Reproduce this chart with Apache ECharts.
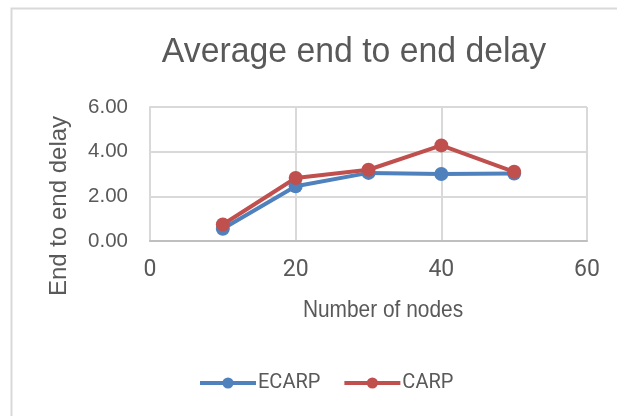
<!DOCTYPE html>
<html>
<head>
<meta charset="utf-8">
<script src="https://cdn.jsdelivr.net/npm/echarts@6/dist/echarts.min.js"></script>
<style>
    html, body { margin: 0; padding: 0; background: #fff; }
    #chart { width: 617px; height: 416px; }
</style>
</head>
<body>
<div id="chart"></div>
<script>
    // values
    var nodes = [10, 20, 30, 40, 50];
    var ecarp = [0.55, 2.45, 3.05, 3.0, 3.02];
    var carp = [0.74, 2.82, 3.19, 4.28, 3.1];

    var sans = '"Liberation Sans", Arial, sans-serif';
    var grey = '#595959';

    function pairs(xs, ys) {
        var out = [];
        for (var i = 0; i < xs.length; i++) {
            out.push([xs[i], ys[i]]);
        }
        return out;
    }

    // the original uses a narrow face, so squeeze the text a bit
    function label(txt, x, y, size, squeeze, rot) {
        return {
            type: 'text',
            x: x, y: y,
            rotation: rot || 0,
            scaleX: squeeze,
            silent: true,
            style: {
                text: txt,
                font: size + 'px ' + sans,
                fill: grey,
                align: 'center',
                verticalAlign: 'middle'
            }
        };
    }

    var myChart = echarts.init(document.getElementById('chart'));
    myChart.setOption({
        animation: false,
        graphic: [
            {
                type: 'rect',
                shape: {x: 11.5, y: 8.5, width: 640, height: 440},
                style: {fill: 'none', stroke: '#d9d9d9', lineWidth: 2},
                silent: true
            },
            label('Average end to end delay', 354, 52, 35, 0.965),
            label('End to end delay', 59, 206, 24, 1.0, Math.PI / 2),
            label('Number of nodes', 383, 310, 24, 0.87)
        ],
        legend: {
            left: 193,
            top: 368,
            itemWidth: 56,
            itemHeight: 14,
            itemGap: 22,
            data: ['ECARP', 'CARP'],
            lineStyle: {width: 4},
            textStyle: {fontFamily: 'Roboto, sans-serif', fontSize: 20, color: grey, padding: [0, 0, 0, -3]}
        },
        grid: {left: 150, right: 30, top: 107, bottom: 175},
        xAxis: {
            type: 'value',
            min: 0, max: 60, interval: 20,
            axisLine: {show: true, lineStyle: {color: '#bfbfbf', width: 2}},
            axisTick: {show: false},
            axisLabel: {margin: 18, fontFamily: 'Roboto, sans-serif', fontSize: 23, color: grey},
            splitLine: {show: true, lineStyle: {color: '#d9d9d9', width: 2}}
        },
        yAxis: {
            type: 'value',
            min: 0, max: 6, interval: 2,
            axisLine: {show: true, lineStyle: {color: '#d9d9d9', width: 2}},
            axisTick: {show: false},
            axisLabel: {
                margin: 22,
                fontFamily: sans, fontSize: 20.5, color: grey,
                formatter: function (v) { return v.toFixed(2); }
            },
            splitLine: {show: true, lineStyle: {color: '#d9d9d9', width: 2}}
        },
        series: [
            {
                name: 'ECARP',
                type: 'line',
                data: pairs(nodes, ecarp),
                symbol: 'circle',
                symbolSize: 14,
                lineStyle: {width: 4, color: '#4f81bd'},
                itemStyle: {color: '#4f81bd'}
            },
            {
                name: 'CARP',
                type: 'line',
                data: pairs(nodes, carp),
                symbol: 'circle',
                symbolSize: 14,
                lineStyle: {width: 4, color: '#c0504d'},
                itemStyle: {color: '#c0504d'}
            }
        ]
    });
</script>
</body>
</html>
